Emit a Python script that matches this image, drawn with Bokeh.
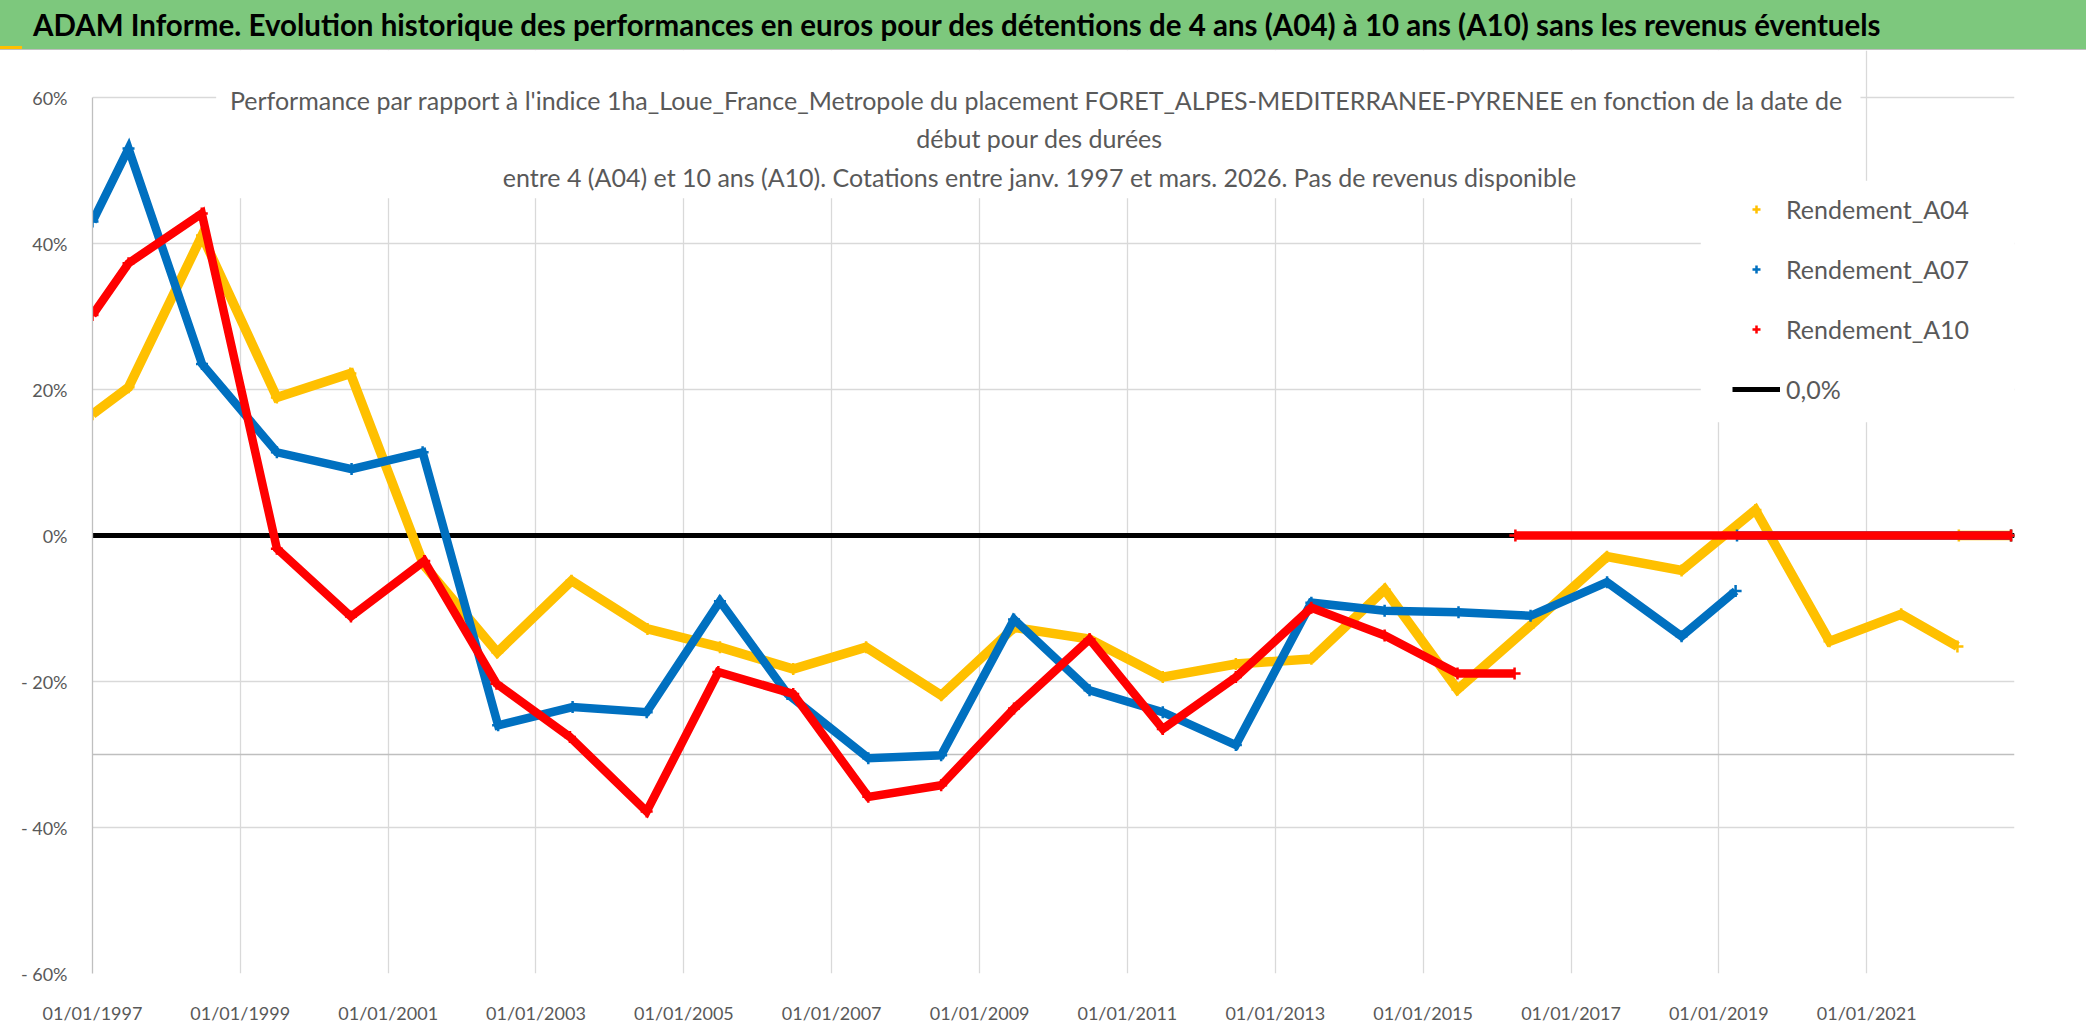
import pandas as pd
from bokeh.plotting import figure
from bokeh.models import (Range1d, FixedTicker, DatetimeTickFormatter, Span,
                          BoxAnnotation, Label, Legend, LegendItem, Div)
from bokeh.layouts import column
from bokeh.embed import file_html
from bokeh.resources import INLINE

# ---------------- data (values in %) ----------------
a04_dates = ["1997-01-01", "1997-06-28", "1998-06-26", "1999-07-01", "2000-06-28",
             "2001-06-25", "2002-06-24", "2003-06-26", "2004-07-05", "2005-06-28",
             "2006-06-25", "2007-06-20", "2008-06-25", "2009-06-20", "2010-06-28",
             "2011-06-25", "2012-06-20", "2013-06-28", "2014-06-25", "2015-06-20",
             "2016-06-28", "2017-06-28", "2018-07-01", "2019-07-01", "2020-07-01",
             "2021-06-20", "2022-03-25"]
a04_values = [16.6, 20.3, 41.1, 18.9, 22.2,
              -4.0, -16.0, -6.2, -12.8, -15.3,
              -18.3, -15.3, -21.9, -12.6, -14.2,
              -19.4, -17.6, -16.9, -7.4, -21.1,
              -12.0, -2.9, -4.8, 3.5, -14.5,
              -10.8, -15.2]
a04_zero_dates = ["2022-04-01", "2022-12-15"]
a04_zero_values = [0.0, 0.0]

a07_dates = ["1997-01-01", "1997-06-28", "1998-06-26", "1999-07-01", "2000-07-04",
             "2001-06-20", "2002-06-28", "2003-07-01", "2004-07-01", "2005-06-28",
             "2006-05-28", "2007-07-01", "2008-06-25", "2009-06-20", "2010-06-28",
             "2011-06-25", "2012-06-20", "2013-06-28", "2014-06-25", "2015-06-25",
             "2016-06-15", "2017-06-28", "2018-07-01", "2019-03-25"]
a07_values = [43.0, 53.0, 23.5, 11.4, 9.1,
              11.4, -26.0, -23.5, -24.2, -9.0,
              -21.7, -30.5, -30.1, -11.5, -21.2,
              -24.2, -28.7, -9.2, -10.3, -10.5,
              -11.0, -6.4, -13.8, -7.6]
a07_zero_dates = ["2019-04-01", "2022-12-15"]
a07_zero_values = [0.0, 0.0]

a10_dates = ["1997-01-01", "1997-06-28", "1998-06-25", "1999-07-01", "2000-07-01",
             "2001-06-28", "2002-06-20", "2003-06-18", "2004-07-01", "2005-06-20",
             "2006-06-25", "2007-07-01", "2008-06-25", "2009-06-20", "2010-06-28",
             "2011-06-25", "2012-06-20", "2013-06-28", "2014-06-25", "2015-06-20",
             "2016-03-28"]
a10_values = [30.2, 37.3, 44.1, -1.8, -11.1,
              -3.5, -20.3, -27.6, -37.8, -18.7,
              -21.7, -35.8, -34.2, -23.7, -14.2,
              -26.5, -19.4, -9.9, -13.7, -18.9,
              -18.9]
a10_zero_dates = ["2016-04-01", "2022-12-15"]
a10_zero_values = [0.0, 0.0]

ref_dates = ["1997-01-01", "2023-01-01"]
ref_values = [0.0, 0.0]

x_tick_years = [1997, 1999, 2001, 2003, 2005, 2007, 2009, 2011, 2013, 2015, 2017, 2019, 2021]
y_ticks = [-60, -40, -20, 0, 20, 40, 60]
y_tick_labels = ["- 60%", "- 40%", "- 20%", "0%", "20%", "40%", "60%"]

series_names = ["Rendement_A04", "Rendement_A07", "Rendement_A10", "0,0%"]

header_text = ("ADAM Informe. Evolution historique des performances en euros pour des "
               "détentions de 4 ans (A04) à 10 ans (A10) sans les revenus éventuels")
title_lines = [
    "Performance par rapport à l'indice 1ha_Loue_France_Metropole  du placement "
    "FORET_ALPES-MEDITERRANEE-PYRENEE en fonction de la date de",
    "début pour des durées",
    "entre 4 (A04) et 10 ans (A10). Cotations entre janv. 1997 et mars. 2026. "
    "Pas de revenus disponible",
]

# ---------------- styles ----------------
FONT = "Lato"
GRAY_TXT = "#595959"
GRID = "#D9D9D9"
C04, C07, C10 = "#FFC000", "#0070C0", "#FF0000"
GREEN = "#7DC87D"
W = 2086
HDR_H = 50
MAIN_H = 1031 - HDR_H
B_LEFT, B_RIGHT, B_BOTTOM = 92, 72, 58
FRAME_H = MAIN_H - B_BOTTOM
PX_PER_PCT = 876 / 120.0
Y_TOP = -60 + FRAME_H / PX_PER_PCT


def d(lst):
    return pd.to_datetime(lst)


def ms(s):
    return pd.Timestamp(s).value / 1e6


# ---------------- header (HTML band) ----------------
hdr_html = (
    '<div style="position:relative;width:%dpx;height:%dpx;background:%s;'
    'box-sizing:border-box;border-bottom:1.5px solid #BFBFBF;overflow:hidden;">'
    '<div style="position:absolute;left:33px;top:0;height:%dpx;line-height:%dpx;'
    'font-family:Lato;font-weight:bold;font-size:29.5px;color:black;white-space:nowrap;">'
    '%s</div>'
    '<div style="position:absolute;left:0;bottom:0;width:22px;height:3px;background:#FFC000;"></div>'
    '</div>' % (W, HDR_H, GREEN, HDR_H - 1, HDR_H - 1, header_text)
)
hdr = Div(text=hdr_html, width=W, height=HDR_H, margin=0)

# ---------------- main chart ----------------
p = figure(width=W, height=MAIN_H, x_axis_type="datetime",
           x_range=Range1d(ms("1997-01-01"), ms("2023-01-01")),
           y_range=Range1d(-60, Y_TOP),
           output_backend="svg", toolbar_location=None,
           min_border_left=B_LEFT, min_border_right=B_RIGHT, min_border_top=0,
           min_border_bottom=B_BOTTOM,
           background_fill_color="white", border_fill_color="white", outline_line_color=None)

xt = FixedTicker(ticks=[ms(f"{y}-01-01") for y in x_tick_years])
p.xaxis.ticker = xt
p.xgrid.ticker = xt
fmt = "%d/%m/%Y"
p.xaxis.formatter = DatetimeTickFormatter(years=fmt, months=fmt, days=fmt, hours=fmt,
                                          hourmin=fmt, minutes=fmt, minsec=fmt,
                                          seconds=fmt, milliseconds=fmt, microseconds=fmt)
p.yaxis.ticker = FixedTicker(ticks=y_ticks)
p.yaxis.major_label_overrides = {t: l for t, l in zip(y_ticks, y_tick_labels)}

for ax in (p.xaxis, p.yaxis):
    ax.major_tick_line_color = None
    ax.minor_tick_line_color = None
    ax.major_label_text_font = FONT
    ax.major_label_text_font_size = "18px"
    ax.major_label_text_color = GRAY_TXT
p.xaxis.axis_line_color = None
p.xaxis.major_label_standoff = 22
p.yaxis.axis_line_color = "#BFBFBF"
p.yaxis.axis_line_width = 1.3
p.yaxis.bounds = (-60, 60)
p.yaxis.major_label_standoff = 19

p.grid.grid_line_color = GRID
p.grid.grid_line_width = 1.3
p.xgrid.bounds = (-60, 60)
p.add_layout(Span(location=-30, dimension="width", line_color="#BFBFBF", line_width=1.6,
                  level="underlay"))

# reference 0 line
zero_r = p.line(d(ref_dates), ref_values, line_color="black", line_width=5)

rends = []
for dates, vals, zd, zv, col, lw in [
        (a04_dates, a04_values, a04_zero_dates, a04_zero_values, C04, 9.5),
        (a07_dates, a07_values, a07_zero_dates, a07_zero_values, C07, 8.5),
        (a10_dates, a10_values, a10_zero_dates, a10_zero_values, C10, 8.5)]:
    p.line(d(dates), vals, line_color=col, line_width=lw, line_join="miter")
    p.line(d(zd), zv, line_color=col, line_width=lw)
    s = p.scatter(d(dates), vals, marker="cross", size=12, line_width=2.5, line_color=col)
    p.scatter(d(zd), zv, marker="cross", size=12, line_width=2.5, line_color=col)
    rends.append(s)

# white boxes behind chart title and legend
p.add_layout(BoxAnnotation(left=ms("1998-09-04"), right=ms("2020-12-01"), bottom=46.2,
                           top=None, fill_color="white", fill_alpha=1, line_color=None))
p.add_layout(BoxAnnotation(left=ms("2018-10-04"), right=None, bottom=15.5, top=48.6,
                           fill_color="white", fill_alpha=1, line_color=None))

legend = Legend(items=[LegendItem(label=series_names[0], renderers=[rends[0]]),
                       LegendItem(label=series_names[1], renderers=[rends[1]]),
                       LegendItem(label=series_names[2], renderers=[rends[2]]),
                       LegendItem(label=series_names[3], renderers=[zero_r])],
                location=(1640, 569), orientation="vertical",
                glyph_width=48, glyph_height=20, label_height=30, spacing=30,
                padding=15, margin=0, label_standoff=6,
                border_line_color=None, background_fill_alpha=0,
                label_text_font=FONT, label_text_font_size="25px",
                label_text_color=GRAY_TXT)
p.add_layout(legend, "center")

for txt, sy in zip(title_lines, [874, 836, 797]):
    p.add_layout(Label(x=947, y=sy, x_units="screen", y_units="screen", text=txt,
                       text_font=FONT, text_font_size="25px", text_color=GRAY_TXT,
                       text_align="center", text_baseline="middle"))

layout = column(hdr, p, spacing=0)
open("out.html", "w").write(file_html(layout, INLINE))
